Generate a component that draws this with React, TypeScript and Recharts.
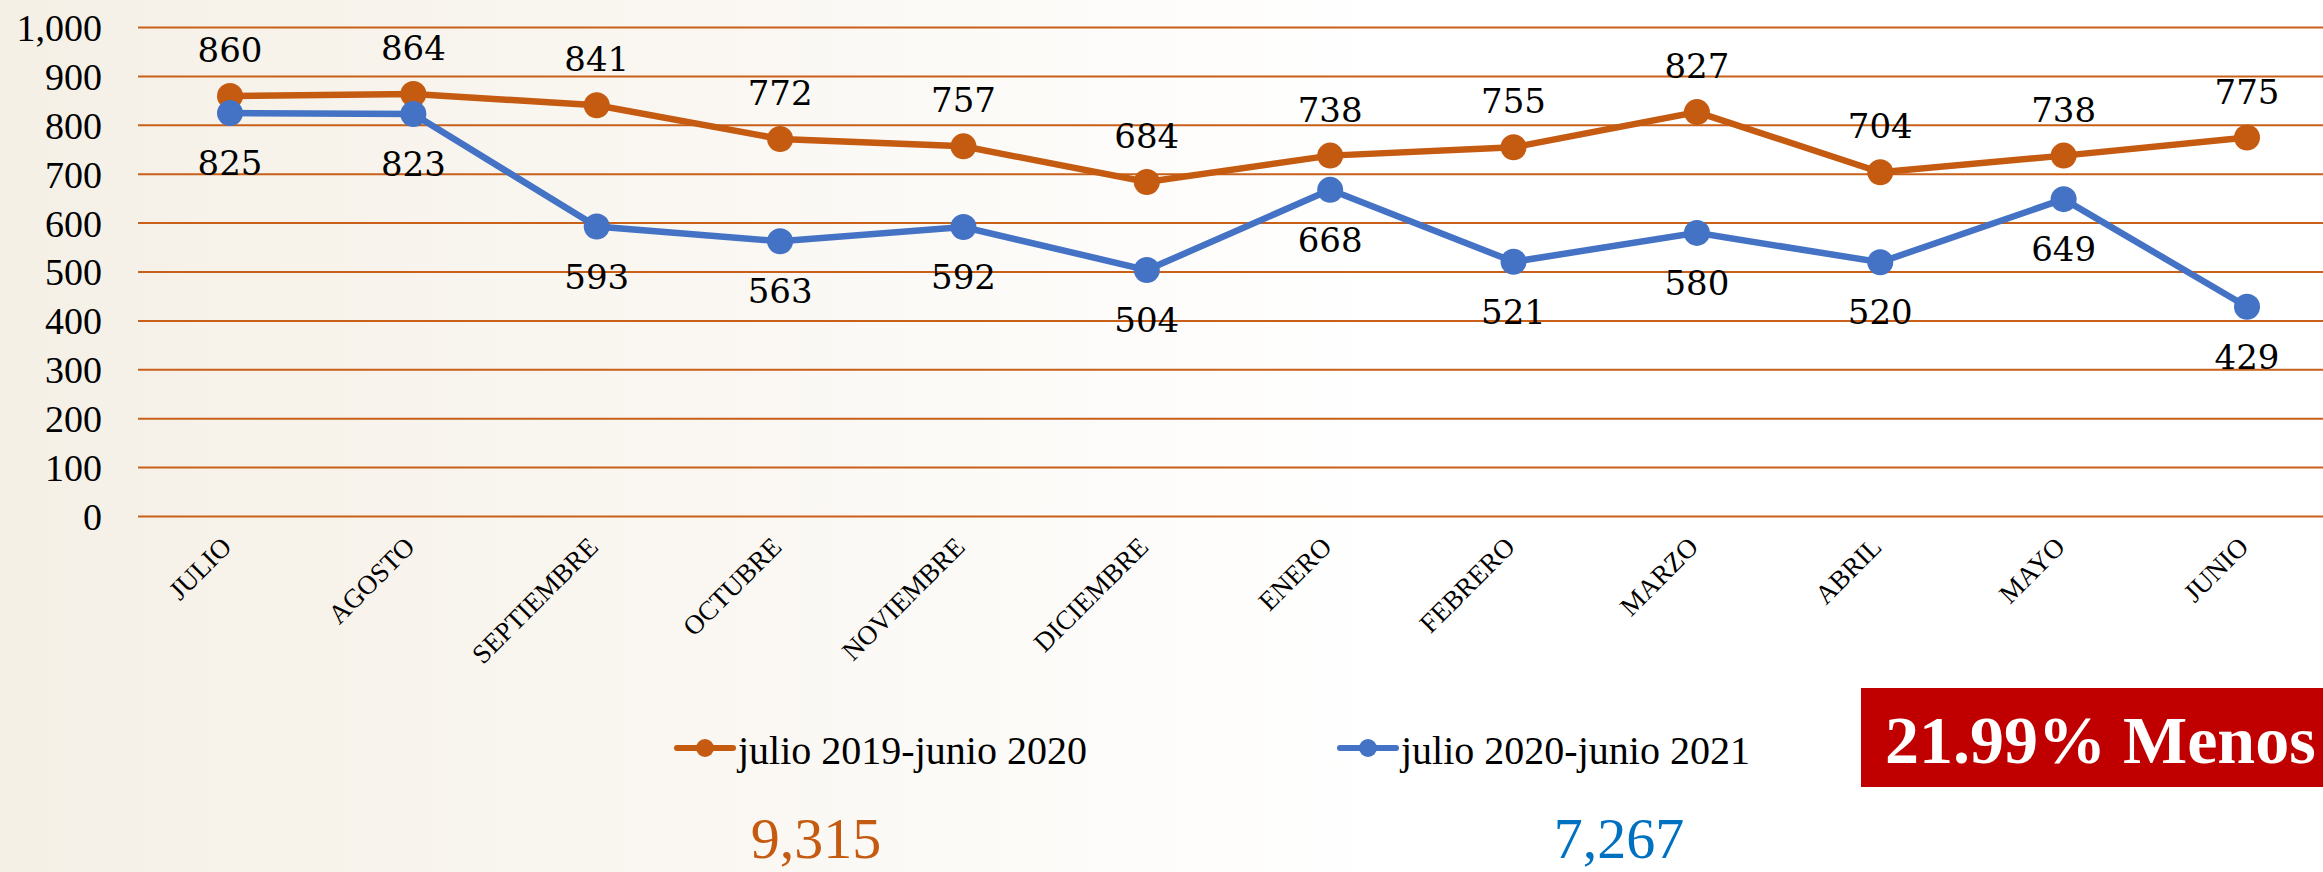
import React from 'react'
import { LineChart, Line, XAxis, YAxis, CartesianGrid, LabelList } from 'recharts'

const MONTHS = ['JULIO', 'AGOSTO', 'SEPTIEMBRE', 'OCTUBRE', 'NOVIEMBRE', 'DICIEMBRE', 'ENERO', 'FEBRERO', 'MARZO', 'ABRIL', 'MAYO', 'JUNIO']
const PREV = [860, 864, 841, 772, 757, 684, 738, 755, 827, 704, 738, 775]
const CURR = [825, 823, 593, 563, 592, 504, 668, 521, 580, 520, 649, 429]
const Y_TICKS = [0, 100, 200, 300, 400, 500, 600, 700, 800, 900, 1000]
const SERIES_NAMES = ['julio 2019-junio 2020', 'julio 2020-junio 2021']

const ORANGE = '#C55A11'
const BLUE = '#4472C4'
const TOTAL_BLUE = '#0070C0'
const RED = '#C00000'

const data = MONTHS.map((m, i) => ({ name: m, prev: PREV[i], curr: CURR[i] }))
const totalPrev = PREV.reduce((s, v) => s + v, 0)
const totalCurr = CURR.reduce((s, v) => s + v, 0)
const pctLess = ((totalPrev - totalCurr) / totalPrev * 100).toFixed(2)

const fmt = (v: number) => v.toLocaleString('en-US')

// etiquetas del eje x giradas
function XTick({ x, y, payload }: any) {
  const ax = x + 3
  const ay = y + 32
  return (
    <text x={ax} y={ay} textAnchor="end" transform={`rotate(-45, ${ax}, ${ay})`}
      fontFamily="Liberation Serif" fontSize={27} fill="#000">
      {payload.value}
    </text>
  )
}

function TopLabel({ x, y, value }: any) {
  return (
    <text x={x} y={y - 34} textAnchor="middle" fontFamily="DejaVu Serif" fontSize={34} fill="#000">
      {value}
    </text>
  )
}

function BottomLabel({ x, y, value }: any) {
  return (
    <text x={x} y={y + 62} textAnchor="middle" fontFamily="DejaVu Serif" fontSize={34} fill="#000">
      {value}
    </text>
  )
}

function LegendItem({ x, color, label }: { x: number; color: string; label: string }) {
  return (
    <g>
      <line x1={x} y1={748} x2={x + 56} y2={748} stroke={color} strokeWidth={6} strokeLinecap="round" />
      <circle cx={x + 28} cy={748} r={9} fill={color} />
      <text x={x + 61} y={764} fontFamily="Liberation Serif" fontSize={40} fill="#000">{label}</text>
    </g>
  )
}

export default function App() {
  return (
    <div style={{ position: 'absolute', left: 0, top: 0, width: 2323, height: 872, overflow: 'hidden', background: '#fff' }}>
      {/* fondo beige suave a la izquierda */}
      <svg width={2323} height={872} style={{ position: 'absolute', left: 0, top: 0 }}>
        <defs>
          <linearGradient id="bg" x1="0" y1="0" x2="1" y2="0">
            <stop offset="0" stopColor="#F5F0E6" />
            <stop offset="0.3" stopColor="#FAF7F2" />
            <stop offset="0.6" stopColor="#FFFFFF" />
          </linearGradient>
        </defs>
        <rect x={0} y={0} width={2323} height={872} fill="url(#bg)" />
      </svg>
      <div style={{ position: 'absolute', left: 0, top: 0 }}>
        <LineChart width={2323} height={872} data={data}
          margin={{ top: 27.5, right: 0, bottom: 215.5, left: 0 }}>
          <CartesianGrid vertical={false} stroke="#C8601A" strokeWidth={2} />
          <XAxis dataKey="name" axisLine={false} tickLine={false} tickSize={0} tickMargin={0}
            height={140} interval={0} tick={<XTick />} padding={{ left: 92, right: 76 }} />
          <YAxis domain={[0, 1000]} ticks={Y_TICKS} interval={0} width={138} axisLine={false} tickLine={false}
            tickSize={0} tickMargin={36} tickFormatter={fmt}
            tick={{ fontFamily: 'Liberation Serif', fontSize: 38, fill: '#000' }} />
          <Line dataKey="prev" stroke={ORANGE} strokeWidth={6.5} isAnimationActive={false}
            dot={{ r: 13, fill: ORANGE, stroke: ORANGE, strokeWidth: 0 }} activeDot={false}>
            <LabelList dataKey="prev" content={<TopLabel />} />
          </Line>
          <Line dataKey="curr" stroke={BLUE} strokeWidth={6.5} isAnimationActive={false}
            dot={{ r: 13, fill: BLUE, stroke: BLUE, strokeWidth: 0 }} activeDot={false}>
            <LabelList dataKey="curr" content={<BottomLabel />} />
          </Line>
        </LineChart>
      </div>
      <svg width={2323} height={872} style={{ position: 'absolute', left: 0, top: 0, pointerEvents: 'none' }}>
        <LegendItem x={677} color={ORANGE} label={SERIES_NAMES[0]} />
        <LegendItem x={1340} color={BLUE} label={SERIES_NAMES[1]} />
        <text x={816} y={858} textAnchor="middle" fontFamily="Liberation Serif" fontSize={58} fill={ORANGE}>{fmt(totalPrev)}</text>
        <text x={1619} y={858} textAnchor="middle" fontFamily="Liberation Serif" fontSize={58} fill={TOTAL_BLUE}>{fmt(totalCurr)}</text>
        <rect x={1861} y={688} width={470} height={99} fill={RED} />
        <text x={1885} y={763} fontFamily="Liberation Serif" fontWeight="bold" fontSize={68} fill="#fff">{pctLess}% Menos</text>
      </svg>
    </div>
  )
}
